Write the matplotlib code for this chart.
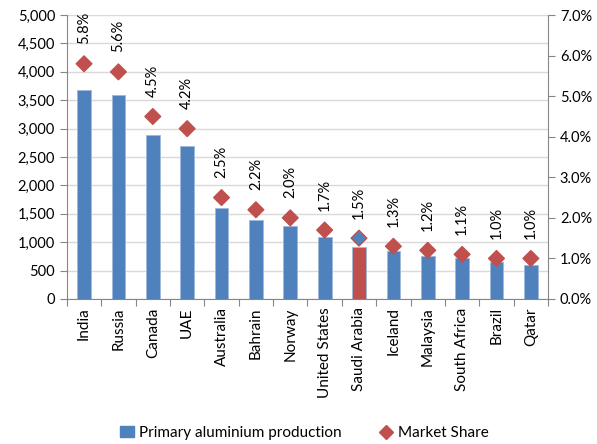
import matplotlib
matplotlib.use('Agg')
import matplotlib.pyplot as plt
from matplotlib.ticker import FuncFormatter, MultipleLocator
import numpy as np

plt.rcParams['font.family'] = ['Lato', 'DejaVu Sans']
plt.rcParams['font.size'] = 10

countries = ['India', 'Russia', 'Canada', 'UAE', 'Australia', 'Bahrain', 'Norway',
             'United States', 'Saudi Arabia', 'Iceland', 'Malaysia', 'South Africa',
             'Brazil', 'Qatar']
production = [3680, 3590, 2890, 2690, 1600, 1390, 1285, 1090, 915, 845, 757, 720, 650, 600]
share = [5.8, 5.6, 4.5, 4.2, 2.5, 2.2, 2.0, 1.7, 1.5, 1.3, 1.2, 1.1, 1.0, 1.0]
highlight = 'Saudi Arabia'

blue = '#4F81BD'
red = '#C0504D'
grid_col = '#D9D9D9'
axis_col = '#868686'

fig = plt.figure(figsize=(5.97, 4.44), dpi=100)
ax = fig.add_axes([0.112, 0.3266, 0.806, 0.6394])
ax2 = ax.twinx()

x = np.arange(len(countries))
bar_cols = [red if c == highlight else blue for c in countries]
ax.bar(x, production, width=0.4, color=bar_cols, edgecolor='#9DB9DC', linewidth=0.6, zorder=2)

ax.set_ylim(0, 5000)
ax.set_xlim(-0.5, len(countries) - 0.5)
ax.yaxis.set_major_locator(MultipleLocator(500))
ax.yaxis.set_major_formatter(FuncFormatter(lambda v, p: f'{int(v):,}'))
ax.grid(axis='y', color=grid_col, linewidth=1, zorder=0)
ax.set_axisbelow(True)

# category ticks sit between the bars
ax.set_xticks(np.arange(len(countries) + 1) - 0.5)
ax.set_xticklabels([])
ax.set_xticks(x, minor=True)
ax.set_xticklabels(countries, minor=True, rotation=90, fontsize=11)
ax.tick_params(axis='x', which='minor', length=0, pad=6)
ax.tick_params(axis='x', which='major', length=5, color=axis_col, direction='out')
ax.tick_params(axis='y', length=5, color=axis_col, labelsize=10.5)

for s in ['top', 'right']:
    ax.spines[s].set_visible(False)
for s in ['left', 'bottom']:
    ax.spines[s].set_color(axis_col)

mk_face = [blue if c == highlight else red for c in countries]
ax2.scatter(x, share, marker='D', s=64, c=mk_face, edgecolors=red, linewidths=1, zorder=3)
for xi, v in zip(x, share):
    ax2.annotate(f'{v:.1f}%', (xi, v), xytext=(0, 14), textcoords='offset points',
                 rotation=90, ha='center', va='bottom', fontsize=10.5)

ax2.set_ylim(0, 7)
ax2.yaxis.set_major_locator(MultipleLocator(1))
ax2.yaxis.set_major_formatter(FuncFormatter(lambda v, p: f'{v:.1f}%'))
ax2.tick_params(axis='y', length=5, color=axis_col, labelsize=10.5)
for s in ['top', 'left', 'bottom']:
    ax2.spines[s].set_visible(False)
ax2.spines['right'].set_color(axis_col)

h1 = plt.Rectangle((0, 0), 1, 1, color=blue)
h2 = plt.Line2D([], [], marker='D', color=red, linestyle='none', markersize=7)
fig.legend([h1, h2], ['Primary aluminium production', 'Market Share'],
           loc='center', bbox_to_anchor=(0.51, 0.025), ncol=2, frameon=False,
           fontsize=11, handlelength=0.9, handletextpad=0.3, columnspacing=2.5)

fig.savefig('out.png', dpi=100)
